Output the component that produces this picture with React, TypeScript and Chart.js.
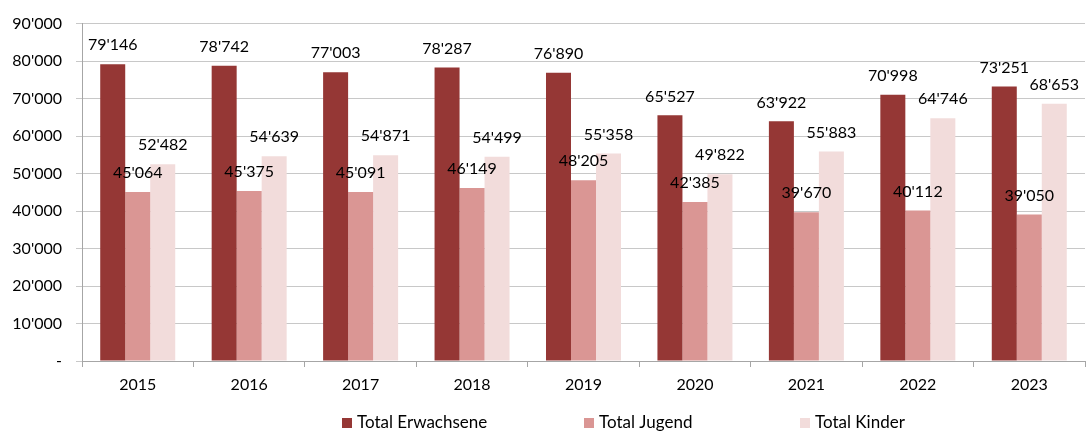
import React, { useEffect, useRef } from "react";
import { Chart, registerables } from "chart.js";

Chart.register(...registerables);

const years = ["2015", "2016", "2017", "2018", "2019", "2020", "2021", "2022", "2023"];
const erwachsene = [79146, 78742, 77003, 78287, 76890, 65527, 63922, 70998, 73251];
const jugend = [45064, 45375, 45091, 46149, 48205, 42385, 39670, 40112, 39050];
const kinder = [52482, 54639, 54871, 54499, 55358, 49822, 55883, 64746, 68653];
const seriesNames = ["Total Erwachsene", "Total Jugend", "Total Kinder"];
const seriesColors = ["#953735", "#DA9694", "#F2DCDB"];

const FONT = "Lato, 'Open Sans', sans-serif";

function fmt(v: number): string {
  if (v === 0) return "-";
  const s = Math.round(v).toString();
  return s.replace(/\B(?=(\d{3})+(?!\d))/g, "'");
}

const labelPlugin = {
  id: "valueLabels",
  afterDatasetsDraw(chart: any) {
    const ctx = chart.ctx;
    ctx.save();
    ctx.font = `16px ${FONT}`;
    ctx.fillStyle = "#000";
    ctx.textAlign = "center";
    ctx.textBaseline = "middle";
    chart.data.datasets.forEach((ds: any, i: number) => {
      const meta = chart.getDatasetMeta(i);
      meta.data.forEach((el: any, j: number) => {
        ctx.fillText(fmt(ds.data[j]), el.x, el.y - 19);
      });
    });
    ctx.restore();
  },
};

const legendX = [342, 584, 800];

const legendPlugin = {
  id: "customLegend",
  afterDraw(chart: any) {
    const ctx = chart.ctx;
    ctx.save();
    ctx.font = `17px ${FONT}`;
    ctx.textBaseline = "middle";
    ctx.textAlign = "left";
    const y = 423;
    seriesNames.forEach((name, i) => {
      const x = legendX[i];
      ctx.fillStyle = seriesColors[i];
      ctx.fillRect(x, y - 5, 10, 10);
      ctx.fillStyle = "#000";
      ctx.fillText(name, x + 15, y);
    });
    ctx.restore();
  },
};

export default function App() {
  const ref = useRef<HTMLCanvasElement | null>(null);
  useEffect(() => {
    document.body.style.margin = "0";
    if (!ref.current) return;
    const chart = new Chart(ref.current, {
      type: "bar",
      data: {
        labels: years,
        datasets: [erwachsene, jugend, kinder].map((d, i) => ({
          label: seriesNames[i],
          data: d,
          backgroundColor: seriesColors[i],
          borderWidth: 0,
          categoryPercentage: 0.673,
          barPercentage: 1,
        })),
      },
      options: {
        responsive: false,
        animation: false,
        layout: { padding: { top: 17, right: 2, left: 0, bottom: 0 } },
        plugins: {
          legend: { display: false },
          tooltip: { enabled: false },
        },
        scales: {
          x: {
            afterFit: (s: any) => {
              s.height = 74;
            },
            grid: {
              display: true,
              drawOnChartArea: false,
              drawTicks: true,
              tickLength: 6,
              color: "#A6A6A6",
            },
            border: { display: true, color: "#A6A6A6" },
            ticks: {
              font: { family: FONT, size: 16 },
              color: "#000",
              padding: 8,
            },
          },
          y: {
            min: 0,
            max: 90000,
            afterFit: (s: any) => {
              s.width = 82;
            },
            grid: { color: "#C8C8C8", tickLength: 6 },
            border: { display: true, color: "#A6A6A6" },
            ticks: {
              stepSize: 10000,
              font: { family: FONT, size: 16 },
              color: "#000",
              padding: 14,
              callback: (v: any) => fmt(Number(v)),
            },
          },
        },
      },
      plugins: [labelPlugin, legendPlugin],
    });
    return () => chart.destroy();
  }, []);
  return <canvas ref={ref} width={1087} height={435} style={{ display: "block" }} />;
}
